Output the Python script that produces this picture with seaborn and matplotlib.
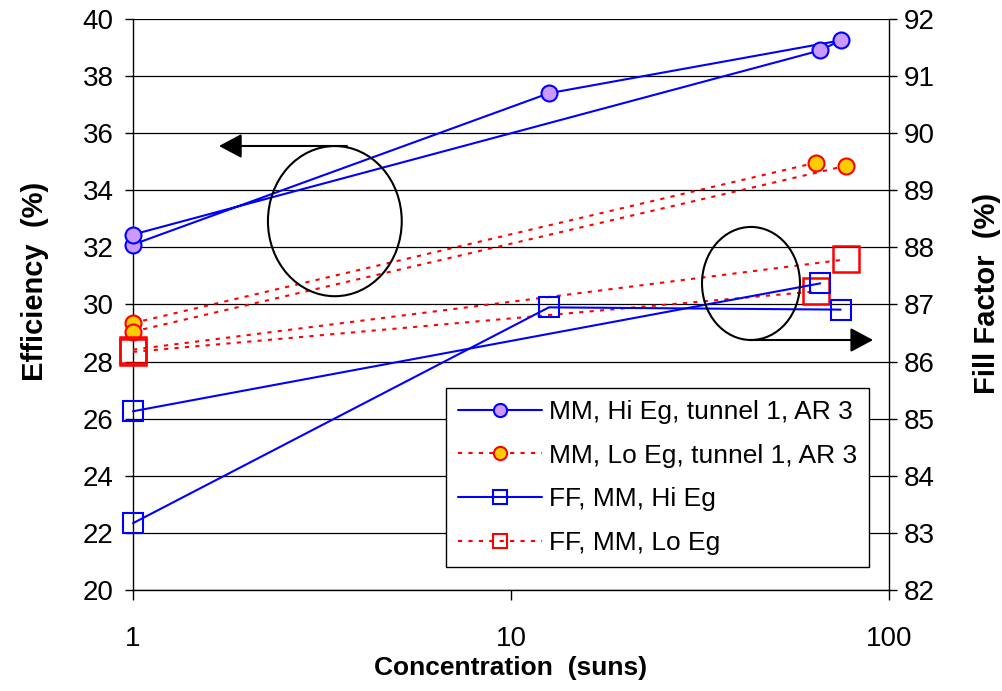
import numpy as np
import pandas as pd
import seaborn as sns
import matplotlib.pyplot as plt
from matplotlib.lines import Line2D
from matplotlib.patches import Ellipse
from matplotlib.ticker import NullLocator

# Efficiency (%) vs concentration (suns), left axis
hi_eff_suns = [1, 12.6, 74.5, 65.8, 1]
hi_eff = [32.1, 37.4, 39.25, 38.9, 32.45]
hi_eff_run = [0, 0, 0, 0, 0]

lo_eff_suns = [1, 64.2, 1, 77]
lo_eff = [29.35, 34.97, 29.05, 34.86]
lo_eff_run = [0, 0, 1, 1]

# Fill factor (%) vs concentration (suns), right axis
hi_ff_suns = [1, 12.6, 74.5, 1, 65.8]
hi_ff = [83.17, 86.95, 86.91, 85.13, 87.37]
hi_ff_run = [0, 0, 0, 1, 1]

lo_ff_suns = [1, 64.2, 1, 77]
lo_ff = [86.17, 87.23, 86.21, 87.79]
lo_ff_run = [0, 0, 1, 1]

series_labels = ["MM, Hi Eg, tunnel 1, AR 3",
                 "MM, Lo Eg, tunnel 1, AR 3",
                 "FF, MM, Hi Eg",
                 "FF, MM, Lo Eg"]

eff_ticks = [20, 22, 24, 26, 28, 30, 32, 34, 36, 38, 40]
ff_ticks = [82, 83, 84, 85, 86, 87, 88, 89, 90, 91, 92]
x_ticks = [1, 10, 100]
x_tick_labels = ["1", "10", "100"]

BLUE = "#0000FF"
RED = "#FF0000"
LILAC = "#CC99FF"
GOLD = "#FFCC00"
DOTS = (0, (2.0, 3.0))
FS = 19
TICK_FS = 20
YLABEL_FS = 21

sns.set_style("white")
plt.rcParams["font.family"] = ["Liberation Sans", "DejaVu Sans"]
plt.rcParams["text.color"] = "black"
plt.rcParams["axes.labelcolor"] = "black"

fig = plt.figure(figsize=(10.03, 6.91), dpi=100)
ax = fig.add_axes([0.1326, 0.1462, 0.8863 - 0.1326, 0.9725 - 0.1462])
ax2 = ax.twinx()


def draw(axis, x, y, run, **kw):
    df = pd.DataFrame({"suns": x, "val": y, "run": run})
    sns.lineplot(data=df, x="suns", y="val", units="run", estimator=None,
                 sort=False, ax=axis, legend=False, clip_on=False, **kw)


draw(ax, lo_eff_suns, lo_eff, lo_eff_run, color=RED, lw=1.5, linestyle=DOTS,
     marker="o", markersize=11.5, markerfacecolor=GOLD,
     markeredgecolor=RED, markeredgewidth=1.5, zorder=3)
draw(ax, hi_eff_suns, hi_eff, hi_eff_run, color=BLUE, lw=1.5,
     marker="o", markersize=11.5, markerfacecolor=LILAC,
     markeredgecolor=BLUE, markeredgewidth=1.5, zorder=4)
draw(ax2, lo_ff_suns, lo_ff, lo_ff_run, color=RED, lw=1.5, linestyle=DOTS,
     marker="s", markersize=19, markerfacecolor="none",
     markeredgecolor=RED, markeredgewidth=1.8, zorder=3)
draw(ax2, hi_ff_suns, hi_ff, hi_ff_run, color=BLUE, lw=1.5,
     marker="s", markersize=14.5, markerfacecolor="none",
     markeredgecolor=BLUE, markeredgewidth=1.5, zorder=4)

for a in (ax, ax2):
    a.set_xscale("log")
    a.set_xlim(1, 100)
    a.xaxis.set_minor_locator(NullLocator())

ax.set_ylim(20, 40)
ax.set_yticks(eff_ticks)
ax2.set_ylim(82, 92)
ax2.set_yticks(ff_ticks)
ax.set_xticks(x_ticks)
ax.set_xticklabels(x_tick_labels)

ax.yaxis.grid(True, color="black", lw=0.9)
ax.xaxis.grid(False)
ax2.grid(False)

ax.tick_params(axis="y", direction="out", length=6, width=1, labelsize=TICK_FS,
               left=True, pad=8, colors="black")
ax.tick_params(axis="x", direction="out", length=7, width=1, labelsize=TICK_FS,
               bottom=True, pad=19, colors="black")
ax2.tick_params(axis="y", direction="out", length=6, width=1, labelsize=TICK_FS,
                right=True, pad=5, colors="black")

ax.set_xlabel("Concentration  (suns)", fontsize=FS, fontweight="bold",
              labelpad=3, color="black")
ax.set_ylabel("Efficiency  (%)", fontsize=YLABEL_FS, fontweight="bold",
              labelpad=24, color="black")
ax2.set_ylabel("Fill Factor  (%)", fontsize=YLABEL_FS, fontweight="bold",
               labelpad=27, color="black")
ax.yaxis.label.set_y(0.54)
ax2.yaxis.label.set_y(0.52)

for name, sp in ax.spines.items():
    sp.set_color("black")
    sp.set_linewidth(1.0)
ax.spines["top"].set_visible(False)
ax.spines["right"].set_visible(False)
for name, sp in ax2.spines.items():
    sp.set_visible(name == "right")
    sp.set_color("black")
    sp.set_linewidth(1.0)

# Callout ellipses with arrows pointing to the axis each group belongs to
ax2.add_patch(Ellipse((0.267, 0.646), 0.177, 0.263, transform=ax2.transAxes,
                      fill=False, edgecolor="black", lw=1.5, zorder=5))
ax2.add_patch(Ellipse((0.8175, 0.5368), 0.1296, 0.198, transform=ax2.transAxes,
                      fill=False, edgecolor="black", lw=1.5, zorder=5))
arrow_kw = dict(arrowstyle="-|>,head_length=1.4,head_width=0.75",
                mutation_scale=10, color="black", lw=1.5, shrinkA=0, shrinkB=0)
ax2.annotate("", xy=(0.1138, 0.7776), xytext=(0.283, 0.7776),
             xycoords="axes fraction", textcoords="axes fraction",
             arrowprops=arrow_kw, zorder=5)
ax2.annotate("", xy=(0.979, 0.4378), xytext=(0.816, 0.4378),
             xycoords="axes fraction", textcoords="axes fraction",
             arrowprops=arrow_kw, zorder=5, annotation_clip=False)

handles = [
    Line2D([], [], color=BLUE, lw=1.5, marker="o", markersize=9.5,
           markerfacecolor=LILAC, markeredgecolor=BLUE, markeredgewidth=1.5),
    Line2D([], [], color=RED, lw=1.5, linestyle=DOTS, marker="o", markersize=9.5,
           markerfacecolor=GOLD, markeredgecolor=RED, markeredgewidth=1.5),
    Line2D([], [], color=BLUE, lw=1.5, marker="s", markersize=9.5,
           markerfacecolor="none", markeredgecolor=BLUE, markeredgewidth=1.5),
    Line2D([], [], color=RED, lw=1.5, linestyle=DOTS, marker="s", markersize=9.5,
           markerfacecolor="none", markeredgecolor=RED, markeredgewidth=1.5),
]
leg = ax2.legend(handles, series_labels, loc="lower right",
                 bbox_to_anchor=(0.9735, 0.040), fontsize=FS, frameon=True,
                 fancybox=False, edgecolor="black", framealpha=1,
                 handlelength=3.2, handletextpad=0.25, labelspacing=0.75,
                 borderpad=0.45, borderaxespad=0)
leg.get_frame().set_linewidth(1.0)
leg.set_zorder(10)
for t in leg.get_texts():
    t.set_color("black")

fig.savefig("out.png", dpi=100)
